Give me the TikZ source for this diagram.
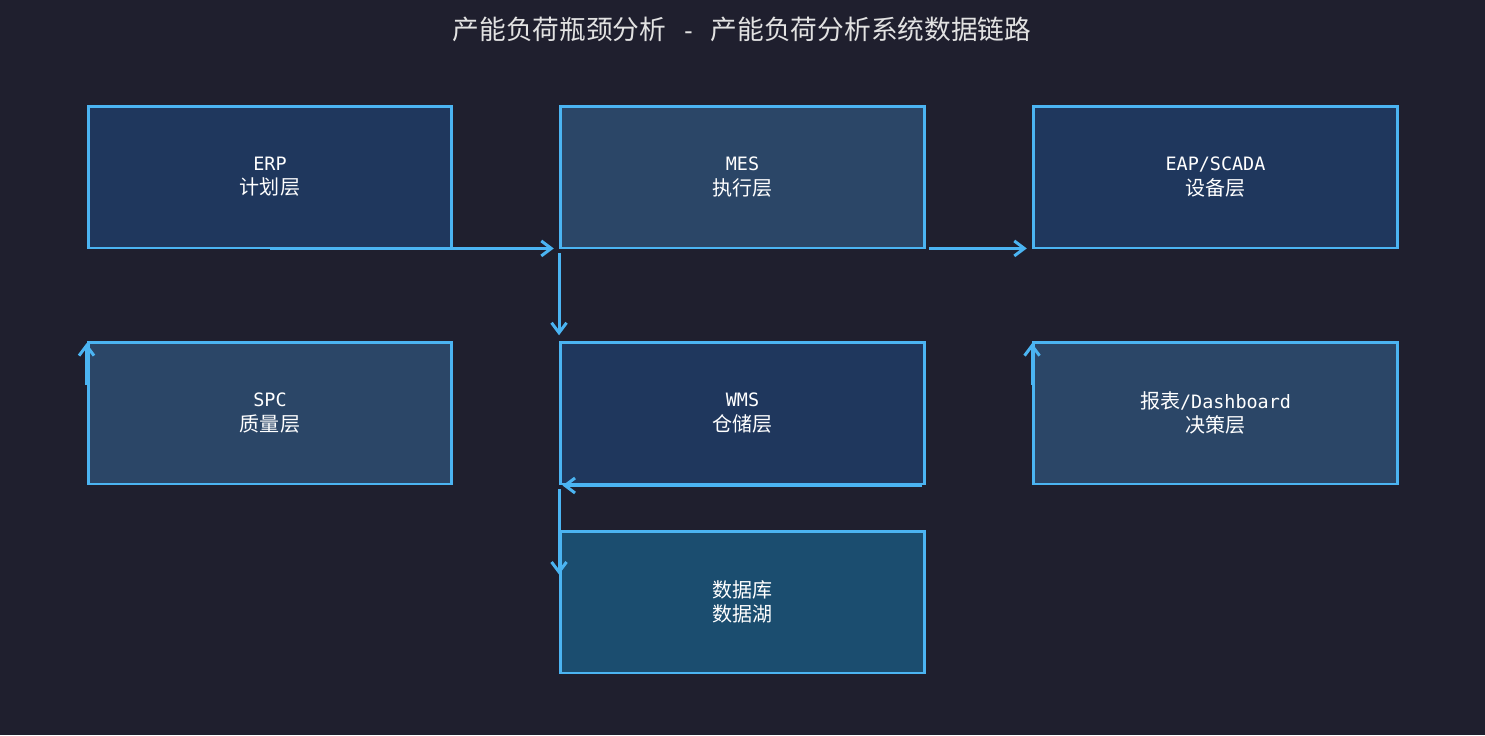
\documentclass[tikz,border=0pt]{standalone}
\usepackage{fontspec}
\setmainfont{Noto Sans CJK SC}
\setmonofont[Scale=0.92]{DejaVu Sans Mono}
\newfontfamily\cjk{Noto Sans CJK SC}
\usetikzlibrary{calc,arrows.meta}
\definecolor{bgdark}{HTML}{1F1F2E}
\definecolor{edgeblue}{HTML}{4BB4F2}
\definecolor{filldeep}{HTML}{1F375D}
\definecolor{fillslate}{HTML}{2B4667}
\definecolor{filldb}{HTML}{1B4D6F}
\definecolor{titlegray}{HTML}{E2E2E2}

\begin{document}
\begin{tikzpicture}[x=0.02cm, y=-0.02cm,
	box/.style={draw=edgeblue, line width=1.7pt, minimum width=7.28cm, minimum height=2.84cm,
		inner sep=0pt, align=center, text=white, font=\fontsize{11.4}{13.8}\selectfont},
	link/.style={draw=edgeblue, line width=1.7pt, -{Straight Barb[length=2mm,width=3mm]}}]
		%%%%% START %%%%%
		
		\fill[bgdark] (0, 0) rectangle (1485, 735);
		\useasboundingbox (0, 0) rectangle (1485, 735);
		
		\node[text=titlegray, font=\fontsize{15.2}{17}\selectfont] (title) at (742, 29) {产能负荷瓶颈分析{\ttfamily\ -\ }产能负荷分析系统数据链路};
		
		\node[box, fill=filldeep] (erp) at (270, 177) {{\ttfamily ERP}\\计划层};
		\node[box, fill=fillslate] (mes) at (742.5, 177) {{\ttfamily MES}\\执行层};
		\node[box, fill=filldeep] (eap) at (1215.5, 177) {{\ttfamily EAP/SCADA}\\设备层};
		
		\node[box, fill=fillslate] (spc) at (270, 413) {{\ttfamily SPC}\\质量层};
		\node[box, fill=filldeep] (wms) at (742.5, 413) {{\ttfamily WMS}\\仓储层};
		\node[box, fill=fillslate] (dash) at (1215.5, 413) {报表{\ttfamily /Dashboard}\\决策层};
		
		\node[box, fill=filldb] (db) at (742.5, 602) {数据库\\数据湖};
		
		\coordinate (dbin) at ($(wms.south west)+(0, 89)$);
		\coordinate (spcin) at ($(spc.north west)+(0, 44)$);
		\coordinate (dashin) at ($(dash.north west)+(0, 44)$);
		
		\draw[link, shorten >=3pt] ([yshift=0.6pt]erp.south) -- ([yshift=0.6pt]mes.south west);
		\draw[link, shorten <=2pt, shorten >=3pt] (mes.south west) -- (wms.north west);
		\draw[link, shorten <=2pt, shorten >=3pt] ([yshift=0.6pt]mes.south east) -- ([yshift=0.6pt]eap.south west);
		\draw[link, shorten <=2pt, shorten >=2pt] (wms.south east) -- (wms.south west);
		\draw[link, shorten <=2pt] (wms.south west) -- (dbin);
		\draw[link, shorten >=1.5pt] (spcin) -- (spc.north west);
		\draw[link, shorten >=1.5pt] (dashin) -- (dash.north west);
		
		%%%%% END %%%%%
	\end{tikzpicture}
\end{document}
